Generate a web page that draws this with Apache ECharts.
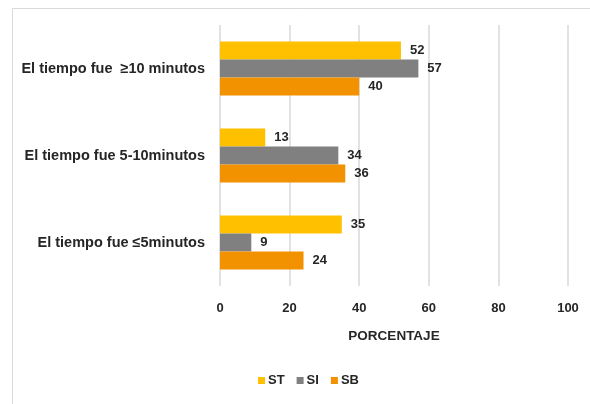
<!DOCTYPE html>
<html>
<head>
<meta charset="utf-8">
<script src="https://cdn.jsdelivr.net/npm/echarts@6/dist/echarts.min.js"></script>
<style>
  html, body { margin: 0; padding: 0; background: #ffffff; }
  #chart { width: 590px; height: 404px; }
</style>
</head>
<body>
<div id="chart"></div>
<script>
// Categories (top to bottom) and percentage per group
const categories = [
  'El tiempo fue  \u226510 minutos',
  'El tiempo fue 5-10minutos',
  'El tiempo fue \u22645minutos'
];
const seriesNames = ['ST', 'SI', 'SB'];
const valuesST = [52, 13, 35];
const valuesSI = [57, 34, 9];
const valuesSB = [40, 36, 24];
const xTicks = [0, 20, 40, 60, 80, 100];

const colors = ['#FFC000', '#808080', '#F39200'];
const font = 'Liberation Sans, Arial, sans-serif';
const textColor = '#262626';

const chart = echarts.init(document.getElementById('chart'), null, { renderer: 'canvas' });

function barSeries(name, data, color) {
  return {
    name: name,
    type: 'bar',
    data: data,
    barGap: '0%',
    barCategoryGap: '38%',
    itemStyle: { color: color },
    label: {
      show: true,
      position: 'right',
      distance: 9,
      color: textColor,
      fontFamily: font,
      fontWeight: 'bold',
      fontSize: 13
    }
  };
}

chart.setOption({
  backgroundColor: '#ffffff',
  animation: false,
  graphic: [{
    type: 'rect',
    left: 10, top: 6,
    shape: { x: 0, y: 0, width: 640, height: 440 },
    style: { fill: 'none', stroke: '#d9d9d9', lineWidth: 1 },
    silent: true,
    z: -1
  }],
  grid: { left: 220, right: 22, top: 25, bottom: 118, containLabel: false },
  legend: {
    data: seriesNames,
    left: 253,
    top: 369,
    itemWidth: 7,
    itemHeight: 7,
    itemGap: 12,
    icon: 'rect',
    textStyle: { color: textColor, fontFamily: font, fontWeight: 'bold', fontSize: 13, padding: [0, 0, 0, -2] }
  },
  xAxis: {
    type: 'value',
    min: xTicks[0],
    max: xTicks[xTicks.length - 1],
    interval: xTicks[1] - xTicks[0],
    name: 'PORCENTAJE',
    nameLocation: 'middle',
    nameGap: 43,
    nameTextStyle: { color: textColor, fontFamily: font, fontWeight: 'bold', fontSize: 13.5 },
    axisLine: { show: false },
    axisTick: { show: false },
    axisLabel: { color: textColor, fontFamily: font, fontWeight: 'bold', fontSize: 13, margin: 16 },
    splitLine: { show: true, lineStyle: { color: '#d9d9d9', width: 1.5 } }
  },
  yAxis: {
    type: 'category',
    data: categories,
    inverse: true,
    axisLine: { show: false },
    axisTick: { show: false },
    axisLabel: { color: textColor, fontFamily: font, fontWeight: 'bold', fontSize: 14.5, margin: 15 }
  },
  series: [
    barSeries(seriesNames[0], valuesST, colors[0]),
    barSeries(seriesNames[1], valuesSI, colors[1]),
    barSeries(seriesNames[2], valuesSB, colors[2])
  ]
});
</script>
</body>
</html>
